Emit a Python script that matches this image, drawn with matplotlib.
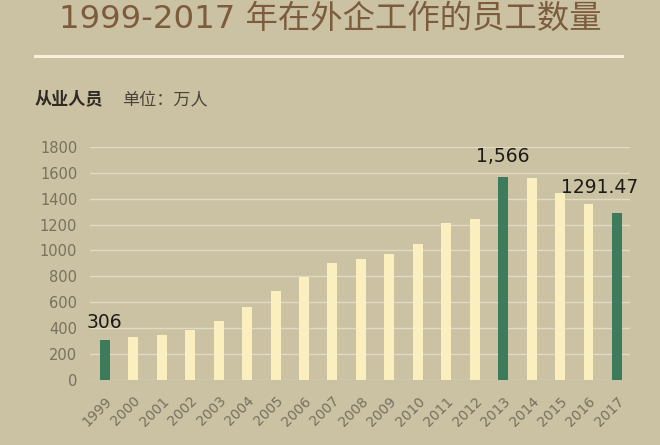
import matplotlib.pyplot as plt
from matplotlib.lines import Line2D

plt.rcParams['font.family'] = ['Noto Sans CJK SC', 'DejaVu Sans']

years = ['1999', '2000', '2001', '2002', '2003', '2004', '2005', '2006', '2007',
         '2008', '2009', '2010', '2011', '2012', '2013', '2014', '2015', '2016', '2017']
staff = [306, 332, 347, 388, 453, 567, 686, 792, 906,
         932, 976, 1049, 1212, 1245, 1566, 1562, 1445, 1357, 1291.47]
highlight = ['1999', '2013', '2017']
labels = {'1999': '306', '2013': '1,566', '2017': '1291.47'}

bg = '#cbc2a4'
cream = '#fbefc0'
green = '#3e7b5d'

# label placement (offset above bar in data units, x shift in bar slots)
label_dy = {'1999': 92, '2013': 117, '2017': 150}
label_dx = {'1999': 0, '2013': 0, '2017': -0.6}

fig = plt.figure(figsize=(6.6, 4.45), dpi=100, facecolor=bg)
ax = fig.add_axes([0.136, 0.146, 0.819, 0.524])
ax.set_facecolor(bg)

colors = [green if y in highlight else cream for y in years]
x = range(len(years))
ax.bar(x, staff, width=0.35, color=colors, zorder=3)

for i, y in enumerate(years):
    if y in labels:
        ax.text(i + label_dx[y], staff[i] + label_dy[y], labels[y], ha='center',
                va='baseline', fontsize=13.5, color='#1e1b16',
                family=['DejaVu Sans'], zorder=4)

ax.set_xlim(-0.53, 18.47)
ax.set_ylim(0, 1800)
ax.set_yticks(range(0, 1801, 200))
ax.set_yticklabels([str(v) for v in range(0, 1801, 200)], fontsize=10.5,
                   color='#77715e', family=['DejaVu Sans'])
ax.set_xticks(list(x))
ax.set_xticklabels(years, rotation=45, ha='right', rotation_mode='anchor',
                   fontsize=10, color='#77715e', family=['DejaVu Sans'])
ax.tick_params(axis='y', length=0, pad=9)
ax.tick_params(axis='x', length=0, pad=10)
ax.grid(axis='y', color='#e2dbc4', linewidth=1.0, zorder=0)
for s in ax.spines.values():
    s.set_visible(False)

fig.text(0.5, 0.937, '1999-2017 年在外企工作的员工数量', ha='center', va='baseline',
         fontsize=23.3, color='#7d5c3e', family=['DejaVu Sans', 'Noto Sans CJK SC'])
fig.add_artist(Line2D([0.053, 0.943], [0.874, 0.874], color='#f7f1dc',
                      linewidth=2.2, transform=fig.transFigure))
fig.text(0.053, 0.776, '从业人员', ha='left', va='center', fontsize=12.3,
         fontweight='bold', color='#2f2a22')
fig.text(0.185, 0.776, '单位：万人', ha='left', va='center', fontsize=12.3,
         color='#4a4438')

fig.savefig('out.png', dpi=100, facecolor=bg)
